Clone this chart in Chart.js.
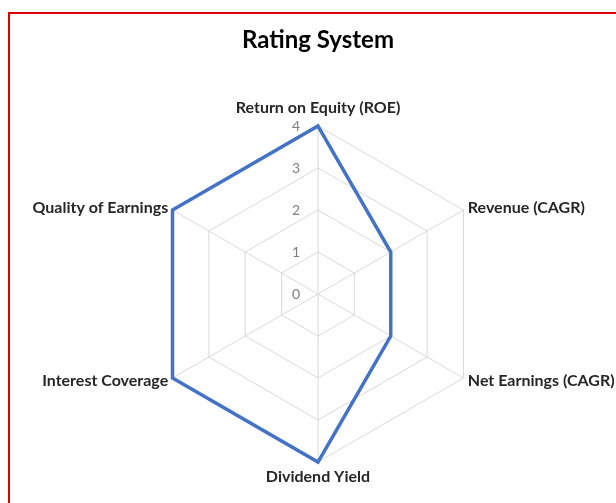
<!DOCTYPE html>
<html>
<head>
<meta charset="utf-8">
<script src="https://cdn.jsdelivr.net/npm/chart.js@4"></script>
<style>
  html, body { margin: 0; padding: 0; background: #fff; overflow: hidden; }
  #frame { position: absolute; left: 8px; top: 12px; width: 640px; height: 520px; border-left: 2px solid #e00000; border-top: 2px solid #e00000; }
  #wrap { position: absolute; left: 0; top: 0; width: 616px; height: 503px; }
</style>
</head>
<body>
<div id="frame"></div>
<div id="wrap"><canvas id="radar"></canvas></div>
<script>
const categories = ['Return on Equity (ROE)', 'Revenue (CAGR)', 'Net Earnings (CAGR)', 'Dividend Yield', 'Interest Coverage', 'Quality of Earnings'];
const ratings = [4, 2, 2, 4, 4, 4];
const tickValues = [0, 1, 2, 3, 4];

// Excel-style labels: ticks left of the vertical axis, category names
// vertically centred on the spokes at the sides
const labelPlugin = {
    id: 'excelLabels',
    afterDatasetsDraw(chart) {
        const scale = chart.scales.r;
        const ctx = chart.ctx;
        ctx.save();
        ctx.textBaseline = 'middle';

        ctx.font = '14px Lato';
        ctx.fillStyle = '#7f7f7f';
        ctx.textAlign = 'center';
        tickValues.forEach(v => {
            const d = scale.getDistanceFromCenterForValue(v);
            ctx.fillText(String(v), scale.xCenter - 22, scale.yCenter - d);
        });

        ctx.font = 'bold 16px Lato';
        ctx.fillStyle = '#262626';
        categories.forEach((name, i) => {
            let gap = 5;
            if (i === 0) gap = 18;
            else if (i === categories.length / 2) gap = 15;
            const p = scale.getPointPosition(i, scale.drawingArea + gap);
            if (Math.abs(p.x - scale.xCenter) < 1) ctx.textAlign = 'center';
            else ctx.textAlign = p.x > scale.xCenter ? 'left' : 'right';
            ctx.fillText(name, p.x, p.y);
        });
        ctx.restore();
    }
};

new Chart(document.getElementById('radar'), {
    type: 'radar',
    data: {
        labels: categories,
        datasets: [{
            label: 'Rating',
            data: ratings,
            borderColor: '#4472C4',
            borderWidth: 3.5,
            backgroundColor: 'rgba(0,0,0,0)',
            fill: false,
            pointRadius: 0,
            tension: 0
        }]
    },
    options: {
        responsive: true,
        maintainAspectRatio: false,
        animation: false,
        layout: { padding: { left: 22, right: 2, top: 0, bottom: 41 } },
        plugins: {
            legend: { display: false },
            tooltip: { enabled: false },
            title: {
                display: true,
                text: 'Rating System',
                color: '#000',
                font: { family: 'Lato', size: 24, weight: 'bold' },
                padding: { top: 26, bottom: 71.2 }
            }
        },
        scales: {
            r: {
                min: 0,
                max: 4,
                ticks: { stepSize: 1, display: false },
                grid: { color: '#d9d9d9', lineWidth: 1 },
                angleLines: { color: '#d9d9d9', lineWidth: 1 },
                pointLabels: { display: false }
            }
        }
    },
    plugins: [labelPlugin]
});
</script>
</body>
</html>
